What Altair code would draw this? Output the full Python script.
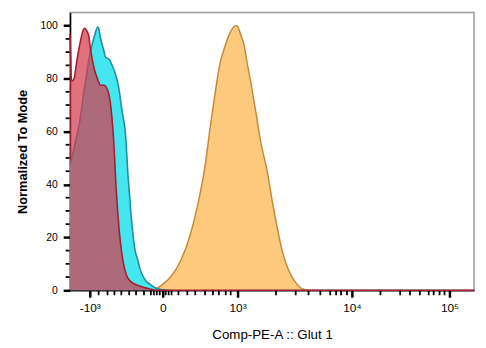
import altair as alt
import pandas as pd

# x values are display channels of the biexponential axis (0 = left edge of plot)
red_x = [0, 3.6, 9.6, 16.8, 26.4, 32.4, 36, 40.8, 44.9, 50.4, 58.3, 66.5, 74.4, 82.3, 90.5, 98.4,
         105.6, 112.8, 120.7, 128.9, 136.8, 148.8, 172.8, 192, 212.9, 556.8, 984]
red_y = [97, 79, 80, 87, 95, 98.5, 99, 98, 96.5, 90.5, 84, 80, 77.5, 77.5, 76, 70.5,
         58, 37, 21, 11, 6, 3.2, 1.4, 0.6, 0, 0, 0]

cyan_x = [0, 7.2, 14.4, 21.6, 27.6, 33.6, 40.8, 46.8, 54, 60, 67.2, 69.6, 74.4, 82.3, 86.4, 94.3,
          102.5, 110.4, 118.3, 126.5, 130.8, 134.4, 136.8, 140.4, 144.7, 148.8, 152.9, 158.4,
          164.9, 170.4, 176.9, 184.8, 192.7, 201.6, 212.9, 225.6, 237.6]
cyan_y = [47.5, 52, 57, 62, 68, 75, 82, 88, 93, 96.5, 99.5, 99, 95, 90.5, 88, 87.4,
          85, 81.8, 76.8, 68, 64, 60, 55, 45, 36.5, 28, 21.5, 15,
          11.5, 8, 5.6, 3.5, 2.5, 1.5, 0.6, 0.2, 0]

orange_x = [204, 220.8, 244.8, 268.8, 292.8, 312.7, 328.8, 340.8, 352.8, 364.8, 376.8, 388.8,
            400.8, 406.3, 416.9, 424.8, 428.9, 440.9, 452.9, 464.4, 480.7, 492.7, 504.7,
            516.7, 532.8, 548.9, 564.7, 578.4]
orange_y = [0, 1.7, 5, 11, 21, 33.5, 47, 61, 74, 85.5, 92, 97,
            99.8, 100, 96, 92, 88, 78, 67, 56, 44.6, 33.5, 23.6,
            14.9, 7.4, 3.1, 0.6, 0]

major_ticks = [48, 225.6, 408, 686.4, 924]
major_labels = ["-10³", "0", "10³", "10⁴", "10⁵"]
minor_ticks = [69.6, 91.2, 108, 124.8, 144, 160.8, 180, 196.8, 204, 211.2, 218.4, 232.8, 240,
               247.2, 264, 285.6, 304.8, 328.8, 348, 362.4, 379.2, 391.2, 501.6, 549.6, 580.8,
               609.6, 633.6, 648, 660, 674.4, 756, 804, 828, 852, 873.6, 885.6, 900, 912]
y_major = [0, 20, 40, 60, 80, 100]
y_minor = [5, 10, 15, 25, 30, 35, 45, 50, 55, 65, 70, 75, 85, 90, 95]

FONT = "Liberation Sans"
W, H = 410, 282

red_df = pd.DataFrame({"ch": red_x, "v": red_y})
cyan_df = pd.DataFrame({"ch": cyan_x, "v": cyan_y})
orange_df = pd.DataFrame({"ch": orange_x, "v": orange_y})

expr = "''"
for v, lab in reversed(list(zip(major_ticks, major_labels))):
    expr = f"abs(datum.value - {v}) < 0.5 ? '{lab}' : ({expr})"

xscale = alt.Scale(domain=[0, 984], nice=False, zero=False)
yscale = alt.Scale(domain=[0, 105], nice=False)

x_axis = alt.Axis(values=major_ticks, labelExpr=expr, ticks=True, tickSize=7,
                  tickWidth=2.5, tickColor="#000000",
                  domainColor="black", domainWidth=1.5,
                  labelFont=FONT, labelFontSize=12, labelColor="black",
                  labelPadding=6, labelFlush=False, labelOverlap=False, grid=False,
                  title="Comp-PE-A :: Glut 1", titleFont=FONT, titleFontSize=13.5,
                  titleFontWeight="normal", titleColor="black", titlePadding=14,
                  orient="bottom")
y_axis = alt.Axis(values=y_major, ticks=True, tickSize=7, tickWidth=2.5,
                  tickColor="#000000",
                  domainColor="black", domainWidth=1.5,
                  labelFont=FONT, labelFontSize=10.5, labelColor="black",
                  labelPadding=6, grid=False, labelOverlap=False,
                  title="Normalized To Mode", titleFont=FONT, titleFontSize=13,
                  titleFontWeight="bold", titleColor="black", titlePadding=11,
                  orient="left")

orange = alt.Chart(orange_df).mark_area(
    color="#fdc97c", fillOpacity=1, interpolate="monotone",
    line={"color": "#c48a3c", "strokeWidth": 1.5}
).encode(
    x=alt.X("ch:Q", scale=xscale, axis=x_axis),
    y=alt.Y("v:Q", scale=yscale, axis=y_axis),
)

cyan = alt.Chart(cyan_df).mark_area(
    color="#44e6f0", fillOpacity=1, interpolate="monotone",
    line={"color": "#1e8fa0", "strokeWidth": 1.6}
).encode(
    x=alt.X("ch:Q", scale=xscale, axis=x_axis),
    y=alt.Y("v:Q", scale=yscale, axis=y_axis),
)

red = alt.Chart(red_df).mark_area(
    color="#d63a4e", fillOpacity=0.72, interpolate="monotone",
    line={"color": "#a51f2e", "strokeWidth": 1.6}
).encode(
    x=alt.X("ch:Q", scale=xscale, axis=x_axis),
    y=alt.Y("v:Q", scale=yscale, axis=y_axis),
)

# minor tick marks, positioned by the scales
xt_minor = alt.Chart(pd.DataFrame({"t": minor_ticks})).mark_rule(
    color="black", strokeWidth=1.8, clip=False).encode(
    x=alt.X("t:Q", scale=xscale), y=alt.value(H + 0.5), y2=alt.value(H + 5))
yt_minor = alt.Chart(pd.DataFrame({"t": y_minor})).mark_rule(
    color="black", strokeWidth=1.8, clip=False).encode(
    y=alt.Y("t:Q", scale=yscale), x=alt.value(-0.5), x2=alt.value(-4.5))

chart = alt.layer(orange, cyan, red, xt_minor, yt_minor).properties(
    width=W, height=H,
    padding={"left": 8, "top": 2, "right": 0, "bottom": 0},
    background="white",
).configure_view(stroke="#9a9a9a", strokeWidth=1.5)

chart.save("out.html", embed_options={"renderer": "svg", "actions": False})
